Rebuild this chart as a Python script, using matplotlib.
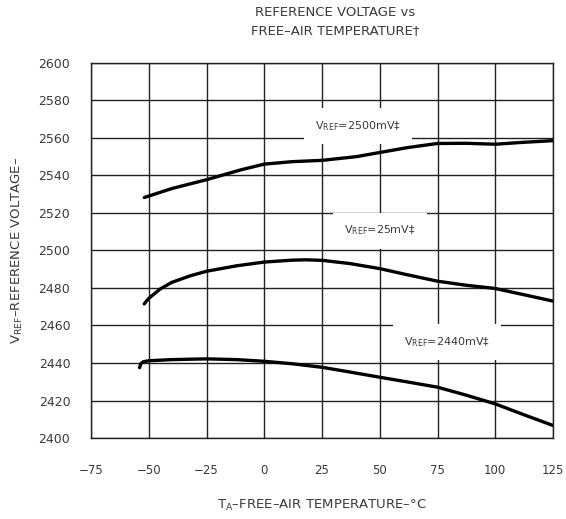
import matplotlib
matplotlib.use("Agg")
import matplotlib.pyplot as plt

plt.rcParams['font.family'] = ['DejaVu Sans']
plt.rcParams['mathtext.fontset'] = 'dejavusans'

# Data (temperature in °C, voltage in mV)
t_top = [-52, -50, -40, -25, -10, 0, 12, 25, 40, 50, 62, 75, 87, 100, 112, 125]
v_top = [2528.2, 2529.0, 2533.0, 2537.7, 2543.0, 2546.0, 2547.3, 2548.0, 2550.0, 2552.2, 2554.8, 2557.0, 2557.1, 2556.6, 2557.6, 2558.5]

t_mid = [-52, -50, -45, -40, -32, -25, -12, 0, 12, 18, 25, 37, 50, 62, 75, 87, 100, 112, 125]
v_mid = [2471.5, 2474.5, 2479.5, 2483.0, 2486.5, 2488.9, 2491.8, 2493.8, 2494.8, 2495.0, 2494.7, 2493.0, 2490.3, 2487.0, 2483.6, 2481.5, 2479.7, 2476.5, 2473.0]

t_bot = [-54, -53.5, -52.5, -50, -40, -25, -12, 0, 12, 25, 37, 50, 62, 75, 87, 100, 112, 125]
v_bot = [2437.5, 2439.6, 2440.6, 2441.2, 2441.8, 2442.2, 2441.8, 2440.9, 2439.6, 2437.7, 2435.2, 2432.4, 2429.9, 2427.1, 2423.0, 2418.2, 2412.6, 2406.7]

x_ticks = [-75, -50, -25, 0, 25, 50, 75, 100, 125]
y_ticks = [2400, 2420, 2440, 2460, 2480, 2500, 2520, 2540, 2560, 2580, 2600]

labels = [r'V$_{\mathrm{REF}}$=2500mV‡', r'V$_{\mathrm{REF}}$=25mV‡', r'V$_{\mathrm{REF}}$=2440mV‡']
label_pos = [(40.5, 2566.5), (50, 2510.6), (79, 2451.0)]

fig = plt.figure(figsize=(5.66, 5.19), dpi=100)
ax = fig.add_axes([0.161, 0.156, 0.816, 0.723])

ax.set_xlim(-75, 125)
ax.set_ylim(2400, 2600)
ax.set_xticks(x_ticks)
ax.set_yticks(y_ticks)
ax.grid(True, color='#222222', linewidth=1.0)
ax.set_axisbelow(True)
for s in ax.spines.values():
    s.set_linewidth(1.0)
    s.set_color('#222222')
ax.tick_params(length=0, labelsize=9, colors='#3a3a3a')
ax.tick_params(axis='x', labelsize=8.5)
ax.tick_params(axis='y', pad=15)
ax.tick_params(axis='x', pad=19)

for t, v in [(t_top, v_top), (t_mid, v_mid), (t_bot, v_bot)]:
    ax.plot(t, v, color='black', linewidth=2.4, solid_capstyle='round', zorder=3)

for txt, (x, y) in zip(labels, label_pos):
    ax.text(x, y, txt, fontsize=8, color='#3a3a3a', ha='center', va='center', zorder=4,
            bbox=dict(facecolor='white', edgecolor='none', pad=8))

ax.set_xlabel(r'T$_{\mathrm{A}}$–FREE–AIR TEMPERATURE–°C', fontsize=9.5, color='#3a3a3a', labelpad=15)
ax.set_ylabel(r'V$_{\mathrm{REF}}$–REFERENCE VOLTAGE–', fontsize=9.5, color='#3a3a3a', labelpad=10)

fig.text(0.592, 0.975, 'REFERENCE VOLTAGE vs', ha='center', va='center', fontsize=9.5, color='#3a3a3a')
fig.text(0.592, 0.942, 'FREE–AIR TEMPERATURE†', ha='center', va='center', fontsize=9.5, color='#3a3a3a')

fig.savefig('out.png', dpi=100)
